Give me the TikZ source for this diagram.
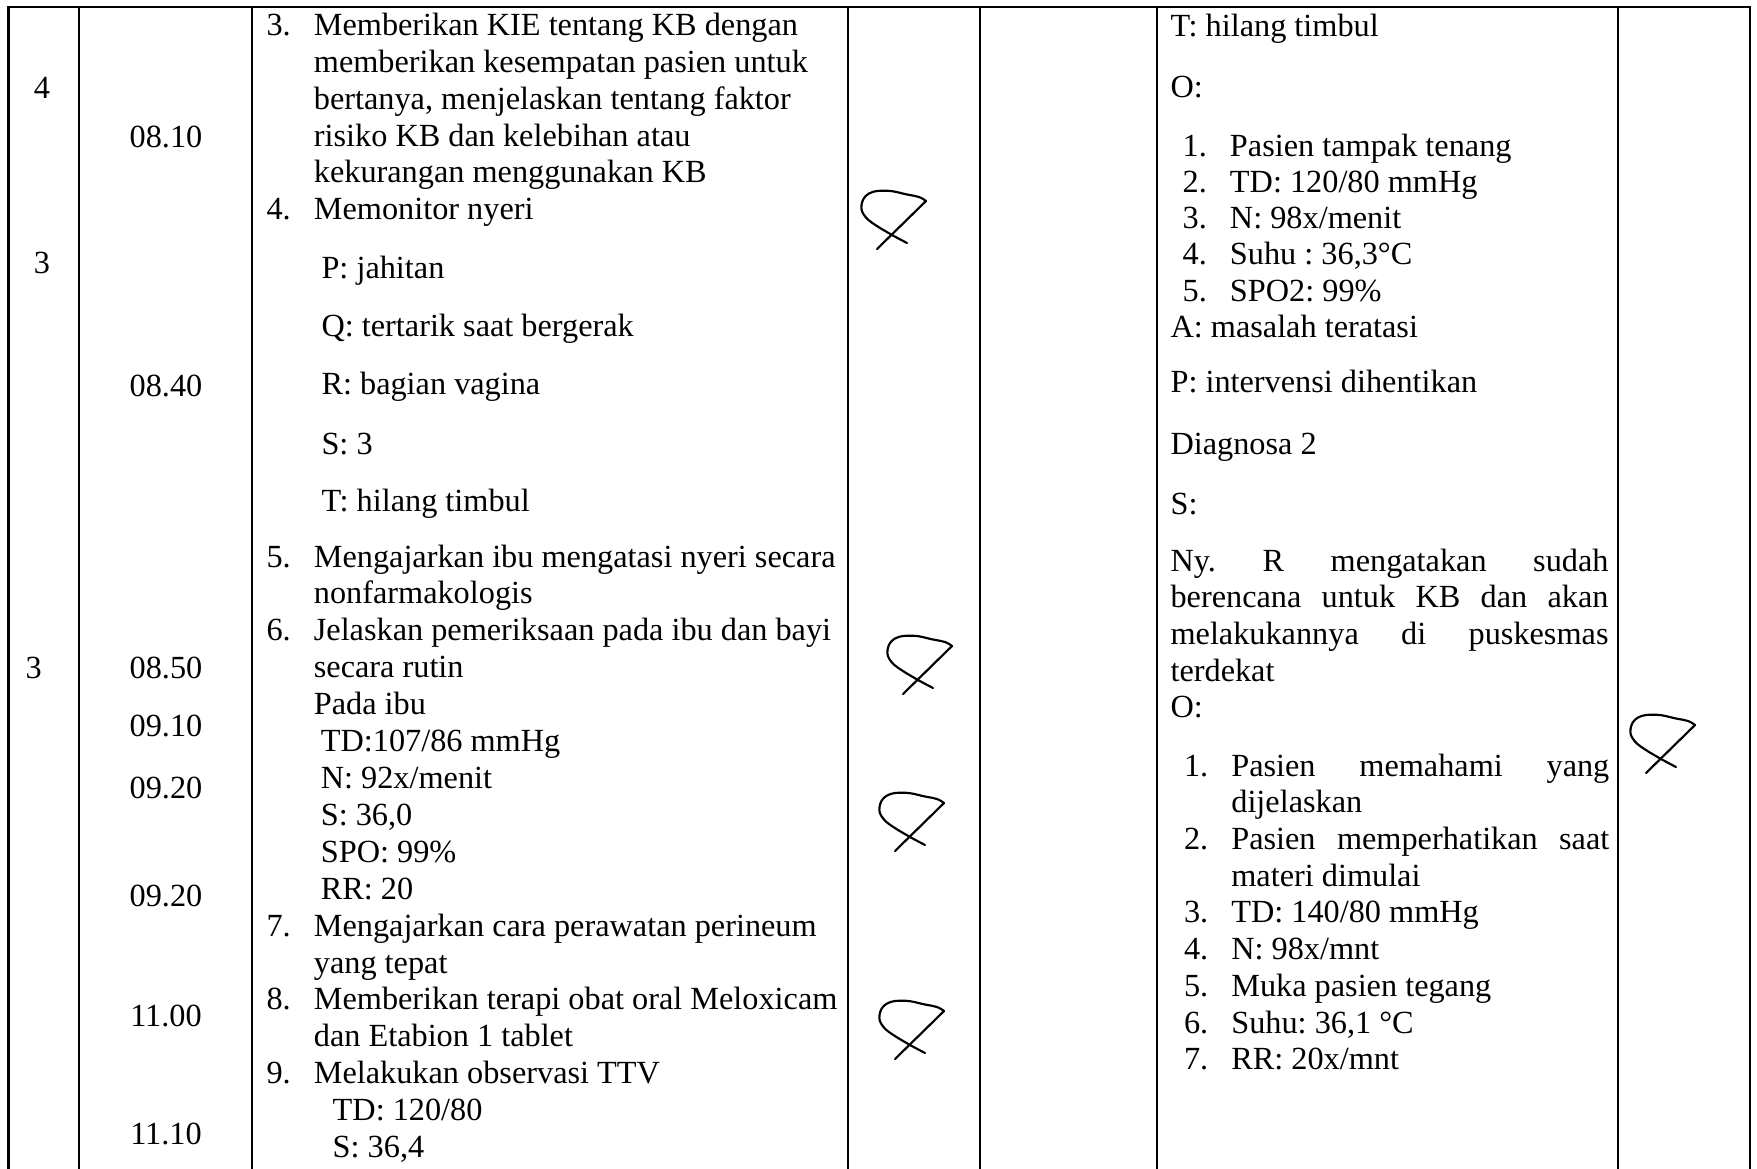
\documentclass[tikz,border=0pt]{standalone}
\usepackage{fontspec}
\setmainfont{Liberation Serif}
\frenchspacing
\tikzset{
  tabline/.style   = {line width=0.75pt, line cap=rect},
  parafline/.style = {line width=0.8pt, line cap=round, line join=round},
  txt/.style       = {anchor=base west, inner sep=0pt, align=left,
                      font=\fontsize{12}{13.65}\selectfont},
  jam/.style       = {anchor=base, inner sep=0pt,
                      font=\fontsize{12}{13.65}\selectfont},
}
\newcommand{\lnum}[1]{\makebox[17.6pt][l]{#1}}
\newcommand{\contln}{\hspace*{17.6pt}}
\newcommand{\paraf}[2]{%
  \begin{scope}[shift={(#1,#2)}]
    \draw[parafline] (16,59) -- (65,11);
    \draw[parafline] plot[smooth, tension=0.7] coordinates
      {(65,11) (58,7) (46,4.5) (26,0.7) (8,3.5) (0.5,15) (4.5,27) (19,38) (31,45) (46,53)};
  \end{scope}
}
\begin{document}
\begin{tikzpicture}[x=0.3717pt, y=-0.3717pt]
  \useasboundingbox (0,0) rectangle (1757,1168);

  % garis tabel
  \draw[tabline] (8.5,6.7) -- (1750,6.7);
  \foreach \x in {8.5,79,252,848,980,1157,1618,1750}
    \draw[tabline] (\x,6.7) -- (\x,1168);

  % no. diagnosa
  \node[jam] (dx1) at (42,98)  {4};
  \node[jam] (dx2) at (42,273) {3};
  \node[txt] (dx3) at (25,678) {3};

  % jam
  \foreach \y/\t [count=\i] in {147/08.10,396/08.40,678/08.50,736/09.10,
                                798/09.20,906/09.20,1026/11.00,1144/11.10}
    \node[jam] (jam\i) at (166,\y) {\t};

  % implementasi (anchor = baris terakhir)
  \node[txt] (impl34) at (266,219.6) {%
    \lnum{3.}Memberikan KIE tentang KB dengan\\
    \contln memberikan kesempatan pasien untuk\\
    \contln bertanya, menjelaskan tentang faktor\\
    \contln risiko KB dan kelebihan atau\\
    \contln kekurangan menggunakan KB\\
    \lnum{4.}Memonitor nyeri};
  \foreach \y/\t [count=\i] in {278/P: jahitan,336/Q: tertarik saat bergerak,
                                394/R: bagian vagina,454/S: 3,511/T: hilang timbul}
    \node[txt] (nyeri\i) at (321,\y) {\t};
  \node[txt, font=\fontsize{12}{13.72}\selectfont] (impl59) at (266,1157.6) {%
    \lnum{5.}Mengajarkan ibu mengatasi nyeri secara\\
    \contln nonfarmakologis\\
    \lnum{6.}Jelaskan pemeriksaan pada ibu dan bayi\\
    \contln secara rutin\\
    \contln Pada ibu\\
    \contln\hspace*{2.6pt}TD:107/86 mmHg\\
    \contln\hspace*{2.6pt}N: 92x/menit\\
    \contln\hspace*{2.6pt}S: 36,0\\
    \contln\hspace*{2.6pt}SPO: 99\%\\
    \contln\hspace*{2.6pt}RR: 20\\
    \lnum{7.}Mengajarkan cara perawatan perineum\\
    \contln yang tepat\\
    \lnum{8.}Memberikan terapi obat oral Meloxicam\\
    \contln dan Etabion 1 tablet\\
    \lnum{9.}Melakukan observasi TTV\\
    \contln\hspace*{7pt}TD: 120/80\\
    \contln\hspace*{7pt}S: 36,4};

  % evaluasi
  \node[txt] (evT)  at (1170,36) {T: hilang timbul};
  \node[txt] (evO1) at (1170,97) {O:};
  \node[txt, font=\fontsize{12}{13.5}\selectfont] (evlist1) at (1170,337.6) {%
    \hspace*{4.5pt}\lnum{1.}Pasien tampak tenang\\
    \hspace*{4.5pt}\lnum{2.}TD: 120/80 mmHg\\
    \hspace*{4.5pt}\lnum{3.}N: 98x/menit\\
    \hspace*{4.5pt}\lnum{4.}Suhu : 36,3°C\\
    \hspace*{4.5pt}\lnum{5.}SPO2: 99\%\\
    A: masalah teratasi};
  \node[txt] (evP)   at (1170,392) {P: intervensi dihentikan};
  \node[txt] (evdx2) at (1170,454) {Diagnosa 2};
  \node[txt] (evS)   at (1170,514) {S:};
  \node[txt] (evnyr) at (1170,717.9) {%
    \makebox[162.8pt][s]{Ny. R mengatakan sudah}\\
    \makebox[162.8pt][s]{berencana untuk KB dan akan}\\
    \makebox[162.8pt][s]{melakukannya di puskesmas}\\
    terdekat\\
    O:};
  \node[txt] (evlist2) at (1170,1069.8) {%
    \hspace*{5pt}\lnum{1.}\makebox[140.5pt][s]{Pasien memahami yang}\\
    \hspace*{5pt}\contln dijelaskan\\
    \hspace*{5pt}\lnum{2.}\makebox[140.5pt][s]{Pasien memperhatikan saat}\\
    \hspace*{5pt}\contln materi dimulai\\
    \hspace*{5pt}\lnum{3.}TD: 140/80 mmHg\\
    \hspace*{5pt}\lnum{4.}N: 98x/mnt\\
    \hspace*{5pt}\lnum{5.}Muka pasien tegang\\
    \hspace*{5pt}\lnum{6.}Suhu: 36,1 °C\\
    \hspace*{5pt}\lnum{7.}RR: 20x/mnt};

  % paraf
  \paraf{861}{190}
  \paraf{887}{635}
  \paraf{879}{792}
  \paraf{879}{1000}
  \paraf{1630}{714}
\end{tikzpicture}
\end{document}
